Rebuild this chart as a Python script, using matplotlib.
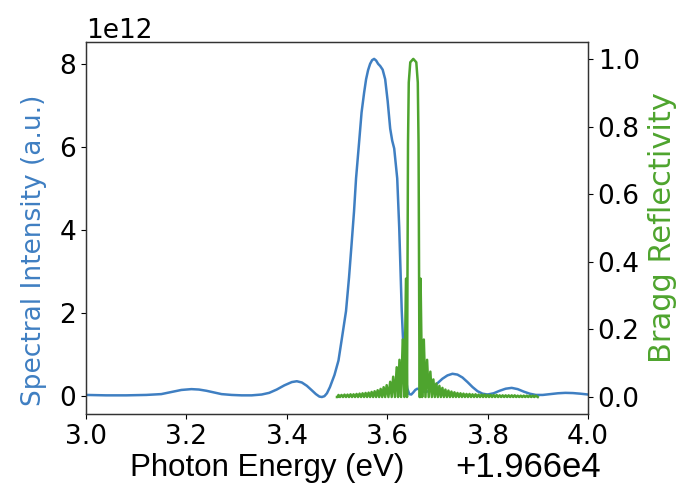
import matplotlib
matplotlib.use("Agg")
import matplotlib.pyplot as plt
import numpy as np

# ---------------- data (photon energy offset from 19660 eV) ----------------
OFFSET = 19660.0

spec_x = [3.000, 3.040, 3.080, 3.120, 3.150, 3.170, 3.190, 3.210, 3.225, 3.240,
          3.255, 3.270, 3.290, 3.310, 3.330, 3.350, 3.365, 3.380, 3.395, 3.410,
          3.420, 3.430, 3.440, 3.450, 3.458, 3.465, 3.470, 3.475, 3.480, 3.486,
          3.495, 3.503, 3.510, 3.518, 3.524, 3.529, 3.534, 3.538, 3.544, 3.549,
          3.554, 3.558, 3.562, 3.566, 3.570, 3.574, 3.578, 3.582, 3.586, 3.591,
          3.596, 3.601, 3.606, 3.610, 3.614, 3.617, 3.620, 3.624, 3.627, 3.629,
          3.632, 3.634, 3.637, 3.640, 3.644, 3.648, 3.652, 3.656, 3.660, 3.665,
          3.670, 3.676, 3.682, 3.690, 3.700, 3.710, 3.720, 3.730, 3.740, 3.750,
          3.760, 3.770, 3.780, 3.790, 3.800, 3.812, 3.824, 3.836, 3.848, 3.860,
          3.872, 3.884, 3.896, 3.910, 3.925, 3.940, 3.955, 3.970, 3.985, 4.000]
spec_y = [0.02, 0.01, 0.01, 0.02, 0.04, 0.09, 0.14, 0.16, 0.15, 0.12,
          0.08, 0.04, 0.02, 0.01, 0.01, 0.03, 0.07, 0.15, 0.25, 0.33,
          0.35, 0.32, 0.24, 0.13, 0.04, -0.02, -0.03, -0.01, 0.06, 0.21,
          0.50, 0.85, 1.40, 2.04, 2.85, 3.64, 4.45, 5.24, 6.10, 6.83,
          7.30, 7.63, 7.85, 8.00, 8.09, 8.12, 8.08, 8.00, 7.95, 7.86,
          7.63, 7.10, 6.44, 6.15, 5.96, 5.60, 5.24, 4.05, 2.85, 2.05,
          1.25, 0.80, 0.45, 0.18, 0.04, 0.03, 0.08, 0.14, 0.17, 0.15,
          0.11, 0.09, 0.11, 0.18, 0.30, 0.41, 0.49, 0.53, 0.51, 0.44,
          0.33, 0.21, 0.11, 0.05, 0.03, 0.06, 0.12, 0.17, 0.19, 0.16,
          0.10, 0.05, 0.02, 0.02, 0.04, 0.06, 0.07, 0.065, 0.05, 0.03]
spec_scale = 1e12

# Bragg reflectivity: sidelobe maxima (minima between lobes are ~0)
left_lobe_x = [3.503, 3.509, 3.515, 3.521, 3.527, 3.533, 3.539, 3.545, 3.551, 3.557,
               3.563, 3.569, 3.575, 3.581, 3.587, 3.593, 3.599, 3.606, 3.612, 3.619,
               3.6245, 3.631, 3.6375]
left_lobe_y = [0.006, 0.006, 0.007, 0.007, 0.008, 0.008, 0.009, 0.010, 0.011, 0.012,
               0.013, 0.015, 0.017, 0.020, 0.024, 0.029, 0.035, 0.045, 0.060, 0.088,
               0.110, 0.170, 0.350]
main_x = [3.6395, 3.6405, 3.6415, 3.6430, 3.6460, 3.6520, 3.6580, 3.6610, 3.6625, 3.6635, 3.6645]
main_y = [0.00, 0.40, 0.75, 0.93, 0.99, 1.00, 0.99, 0.93, 0.75, 0.40, 0.00]
right_lobe_x = [3.6665, 3.673, 3.6795, 3.686, 3.692, 3.698, 3.704, 3.710, 3.716, 3.722,
                3.728, 3.734, 3.740, 3.746, 3.752, 3.758, 3.764, 3.770, 3.776, 3.782,
                3.788, 3.794, 3.800, 3.806, 3.812, 3.818, 3.824, 3.830, 3.836, 3.842,
                3.848, 3.854, 3.860, 3.866, 3.872, 3.878, 3.884, 3.890, 3.896]
right_lobe_y = [0.350, 0.170, 0.110, 0.075, 0.052, 0.040, 0.033, 0.027, 0.022, 0.019,
                0.016, 0.014, 0.012, 0.011, 0.010, 0.009, 0.009, 0.008, 0.008, 0.007,
                0.007, 0.007, 0.006, 0.006, 0.006, 0.006, 0.005, 0.005, 0.005, 0.005,
                0.005, 0.005, 0.004, 0.004, 0.004, 0.004, 0.004, 0.004, 0.004]
bragg_start, bragg_end = 3.500, 3.900

xticks = [3.0, 3.2, 3.4, 3.6, 3.8, 4.0]
rticks = [0.0, 0.2, 0.4, 0.6, 0.8, 1.0]

# ---------------- build the Bragg curve (lobe maxima with zero minima between) ----------------
def zigzag(px, py, x0, x1):
    xs, ys = [x0], [0.0]
    prev = x0
    for x, y in zip(px, py):
        xs.append((prev + x) / 2)
        ys.append(0.0)
        xs.append(x)
        ys.append(y)
        prev = x
    xs.append(x1)
    ys.append(0.0)
    return xs, ys

lx, ly = zigzag(left_lobe_x, left_lobe_y, bragg_start, main_x[0])
rx, ry = zigzag(right_lobe_x, right_lobe_y, main_x[-1], bragg_end)
bragg_x = np.array(lx + main_x + rx) + OFFSET
bragg_y = np.array(ly + main_y + ry)

# ---------------- plot ----------------
blue = "#3f7fc2"
green = "#4ea42e"
fs = 19

fig = plt.figure(figsize=(6.77, 4.91), dpi=100)
ax = fig.add_axes([0.127, 0.157, 0.7415, 0.7575])
ax.plot(np.array(spec_x) + OFFSET, np.array(spec_y) * spec_scale, color=blue, lw=1.8)
ax.set_xlim(3.0 + OFFSET, 4.0 + OFFSET)
ax.set_xticks(np.array(xticks) + OFFSET)
ax.set_xticklabels([f"{t:.1f}" for t in xticks])
ax.xaxis.get_offset_text().set_visible(False)
ax.tick_params(labelsize=fs)
ax.yaxis.get_offset_text().set_fontsize(fs)
ax.set_ylabel("Spectral Intensity (a.u.)", color=blue, fontsize=fs)
ax.set_xlabel("Photon Energy (eV)", fontsize=22.5, family="Liberation Sans")
ax.xaxis.set_label_coords(0.36, -0.105)
ax.yaxis.set_label_coords(-0.077, 0.44)
exp = int(np.log10(OFFSET))
off_str = "+%.3fe%d" % (OFFSET / 10 ** exp, exp)
ax.text(1.025, -0.145, off_str, transform=ax.transAxes, ha="right", va="center",
        fontsize=25, family="Liberation Sans")

ax2 = ax.twinx()
ax2.plot(bragg_x, bragg_y, color=green, lw=1.8)
ax2.set_ylabel("Bragg Reflectivity", color=green, fontsize=22)
ax2.yaxis.set_label_coords(1.12, 0.5)
ax2.tick_params(labelsize=fs)
ax2.set_yticks(rticks)

for a in (ax, ax2):
    for s in a.spines.values():
        s.set_color("#333333")
        s.set_linewidth(0.9)

fig.savefig("out.png", dpi=100)
